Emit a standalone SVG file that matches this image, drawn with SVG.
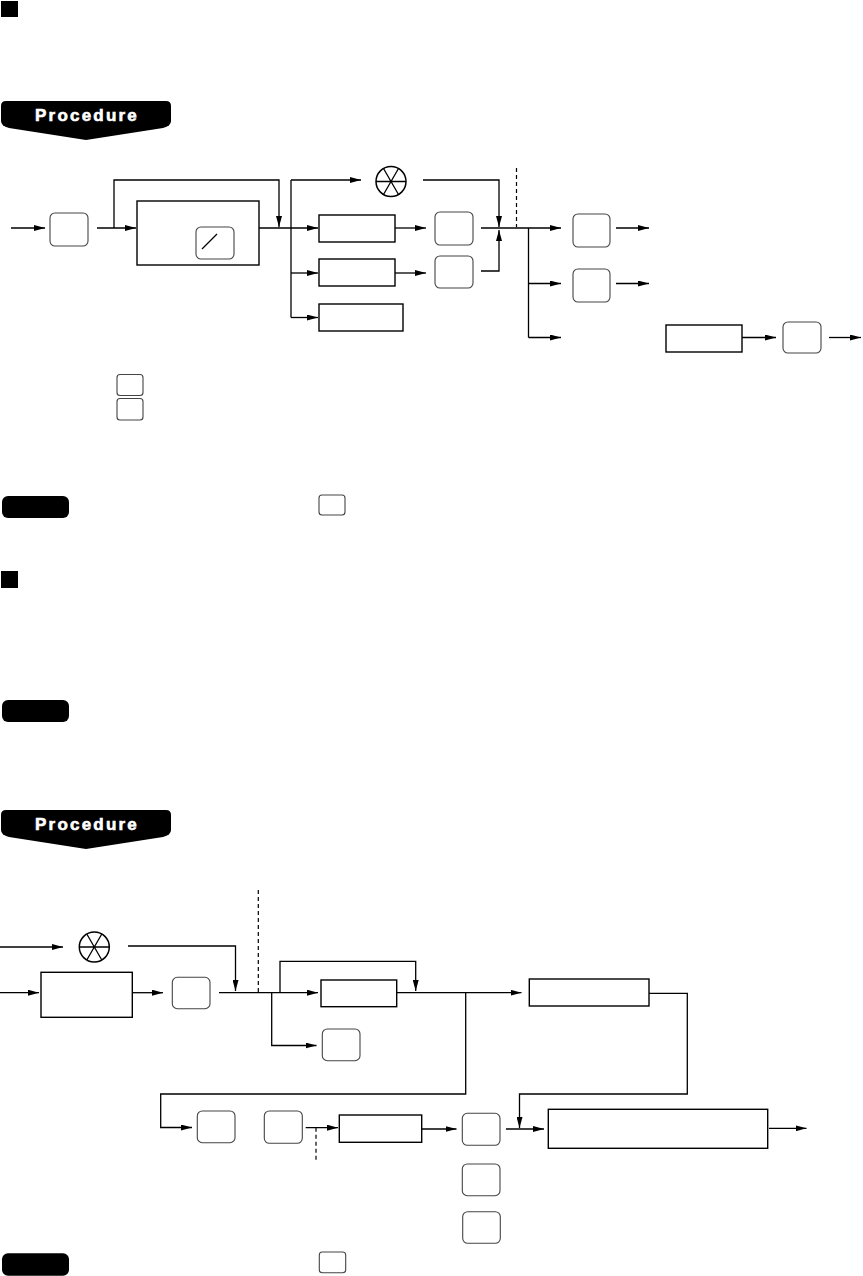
<svg xmlns="http://www.w3.org/2000/svg" width="863" height="1276" viewBox="0 0 863 1276">
<style>
.ln{fill:none;stroke:#000;stroke-width:1.3}
.ar{marker-end:url(#ah)}
.dash{fill:none;stroke:#000;stroke-width:1.2;stroke-dasharray:4,3}
.rect{fill:#fff;stroke:#000;stroke-width:1.4}
.key{fill:#fff;stroke:#444;stroke-width:1.1}
.sym{fill:#fff;stroke:#000;stroke-width:1.5}
.blk{fill:#000}
.ban{fill:#fff;stroke:#fff;stroke-width:0.6;font-family:"Liberation Sans",Arial,sans-serif;font-weight:bold;font-size:17px;letter-spacing:2.2px;text-anchor:middle}
</style>
<defs>
<marker id="ah" markerWidth="11" markerHeight="6" refX="11" refY="3" orient="auto" markerUnits="userSpaceOnUse"><path d="M0,0 L11,3 L0,6 z" fill="#000"/></marker>
<g id="wheel"><circle cx="0" cy="0" r="15" class="sym"/><path d="M-15,0 H15 M-7.5,-13 L7.5,13 M7.5,-13 L-7.5,13" class="ln" stroke-width="1.5"/></g>
</defs>
<rect width="863" height="1276" fill="#fff"/>

<!-- headings -->
<rect id="sq1" x="1" y="1" width="17" height="16" class="blk"/>
<g id="banner1"><path d="M1,106 Q1,101 6,101 L166,101 Q171,101 171,106 L171,121 Q171,126 163,128 L86,140 L9,128 Q1,126 1,121 Z" class="blk"/><text x="87" y="121" class="ban">Procedure</text></g>

<g id="connectors1">
<path d="M11,228 H45" class="ln ar"/>
<path d="M97,228 H136" class="ln ar"/>
<path d="M114,228 V180 H279 V227" class="ln ar"/>
<path d="M259,228 H318" class="ln ar"/>
<path d="M291,180 V317.5" class="ln"/>
<path d="M291,180 H361" class="ln ar"/>
<path d="M291,273 H318" class="ln ar"/>
<path d="M291,317.5 H318" class="ln ar"/>
<path d="M395,228 H426" class="ln ar"/>
<path d="M395,273 H426" class="ln ar"/>
<path d="M423,180 H499 V227" class="ln ar"/>
<path d="M481,271 H499 V230" class="ln ar"/>
<path d="M481,228 H561" class="ln ar"/>
<path d="M528.5,228 V337.5" class="ln"/>
<path d="M528.5,283.5 H561" class="ln ar"/>
<path d="M528.5,337.5 H561" class="ln ar"/>
<path d="M516.5,168 V227" class="dash"/>
<path d="M616,228 H649" class="ln ar"/>
<path d="M616,283.5 H649" class="ln ar"/>
<path d="M742,337.5 H776" class="ln ar"/>
<path d="M829,337.5 H861" class="ln ar"/>
</g>

<g id="k1"><rect x="50" y="213" width="38" height="33" rx="5" class="key"/></g>
<g id="r1"><rect x="137" y="201" width="122" height="64" class="rect"/></g>
<g id="k2"><rect x="196" y="227" width="38" height="32" rx="5" class="key"/><path d="M202,249 L217,234" class="ln" stroke-width="1.1"/></g>
<g id="w1"><use href="#wheel" x="391" y="181.5"/></g>
<g id="r2"><rect x="319" y="215" width="76" height="27" class="rect"/></g>
<g id="r3"><rect x="319" y="259" width="76" height="27" class="rect"/></g>
<g id="r4"><rect x="319" y="304" width="84" height="27" class="rect"/></g>
<g id="k3"><rect x="435" y="212" width="38" height="33" rx="5" class="key"/></g>
<g id="k4"><rect x="435" y="256" width="38" height="32" rx="5" class="key"/></g>
<g id="k5"><rect x="573" y="214" width="37" height="33" rx="5" class="key"/></g>
<g id="k6"><rect x="573" y="269" width="37" height="33" rx="5" class="key"/></g>
<g id="r5"><rect x="666" y="325" width="76" height="27" class="rect"/></g>
<g id="k7"><rect x="783" y="322" width="38" height="31" rx="5" class="key"/></g>
<g id="k8"><rect x="117" y="374.5" width="26" height="21" rx="3" class="key"/></g>
<g id="k9"><rect x="117" y="398.5" width="26" height="21.5" rx="3" class="key"/></g>
<g id="pill1"><rect x="2" y="496" width="67" height="22" rx="6" class="blk"/></g>
<g id="k10"><rect x="319" y="495" width="26" height="20" rx="3" class="key"/></g>

<!-- second section -->
<rect id="sq2" x="1" y="571" width="17" height="17" class="blk"/>
<g id="pill2"><rect x="2" y="700" width="67" height="22" rx="6" class="blk"/></g>
<g id="banner2"><path d="M1,815 Q1,810 6,810 L166,810 Q171,810 171,815 L171,830 Q171,835 163,837 L86,849 L9,837 Q1,835 1,830 Z" class="blk"/><text x="87" y="830" class="ban">Procedure</text></g>

<g id="connectors2">
<path d="M0,947 H63" class="ln ar"/>
<path d="M128,946 H235.5 V991" class="ln ar"/>
<path d="M0,992.7 H39" class="ln ar"/>
<path d="M132,992.7 H163" class="ln ar"/>
<path d="M219,992.7 H318" class="ln ar"/>
<path d="M258.3,890 V992" class="dash"/>
<path d="M280,992.7 V961.3 H415.7 V991" class="ln ar"/>
<path d="M397,992.7 H521.5" class="ln ar"/>
<path d="M649,993.3 H687.3 V1094 H519.5 V1128" class="ln ar"/>
<path d="M271.7,992.7 V1045.5 H316.5" class="ln ar"/>
<path d="M465.7,992.7 V1094 H160.7 V1127.5 H192" class="ln ar"/>
<path d="M305.7,1127.7 H338" class="ln ar"/>
<path d="M316,1127.7 V1161" class="dash"/>
<path d="M421.7,1129 H456.5" class="ln ar"/>
<path d="M506,1129 H544" class="ln ar"/>
<path d="M769,1128.3 H806.5" class="ln ar"/>
</g>

<g id="w2"><use href="#wheel" x="94.3" y="947"/></g>
<g id="r6"><rect x="41" y="972.3" width="91.3" height="45" class="rect"/></g>
<g id="k11"><rect x="172.3" y="977.3" width="37.7" height="31.4" rx="5" class="key"/></g>
<g id="r7"><rect x="321" y="980" width="75.7" height="26.7" class="rect"/></g>
<g id="r8"><rect x="529.3" y="979" width="119.7" height="27" class="rect"/></g>
<g id="k12"><rect x="322.3" y="1029" width="37.7" height="31.7" rx="5" class="key"/></g>
<g id="k13"><rect x="197.3" y="1111" width="37.7" height="31.7" rx="5" class="key"/></g>
<g id="k14"><rect x="264.3" y="1111" width="38" height="32.3" rx="5" class="key"/></g>
<g id="r9"><rect x="339.3" y="1115" width="82.4" height="27.3" class="rect"/></g>
<g id="k15"><rect x="462.3" y="1113.3" width="37.7" height="32" rx="5" class="key"/></g>
<g id="k16"><rect x="462.3" y="1164" width="37.7" height="31.7" rx="5" class="key"/></g>
<g id="k17"><rect x="462.7" y="1211.7" width="37.6" height="31.6" rx="5" class="key"/></g>
<g id="r10"><rect x="548.3" y="1109.3" width="219.4" height="39" class="rect"/></g>
<g id="pill3"><rect x="2" y="1253.3" width="67" height="22.4" rx="6" class="blk"/></g>
<g id="k18"><rect x="319.3" y="1252" width="26.4" height="20.7" rx="3" class="key"/></g>
</svg>
